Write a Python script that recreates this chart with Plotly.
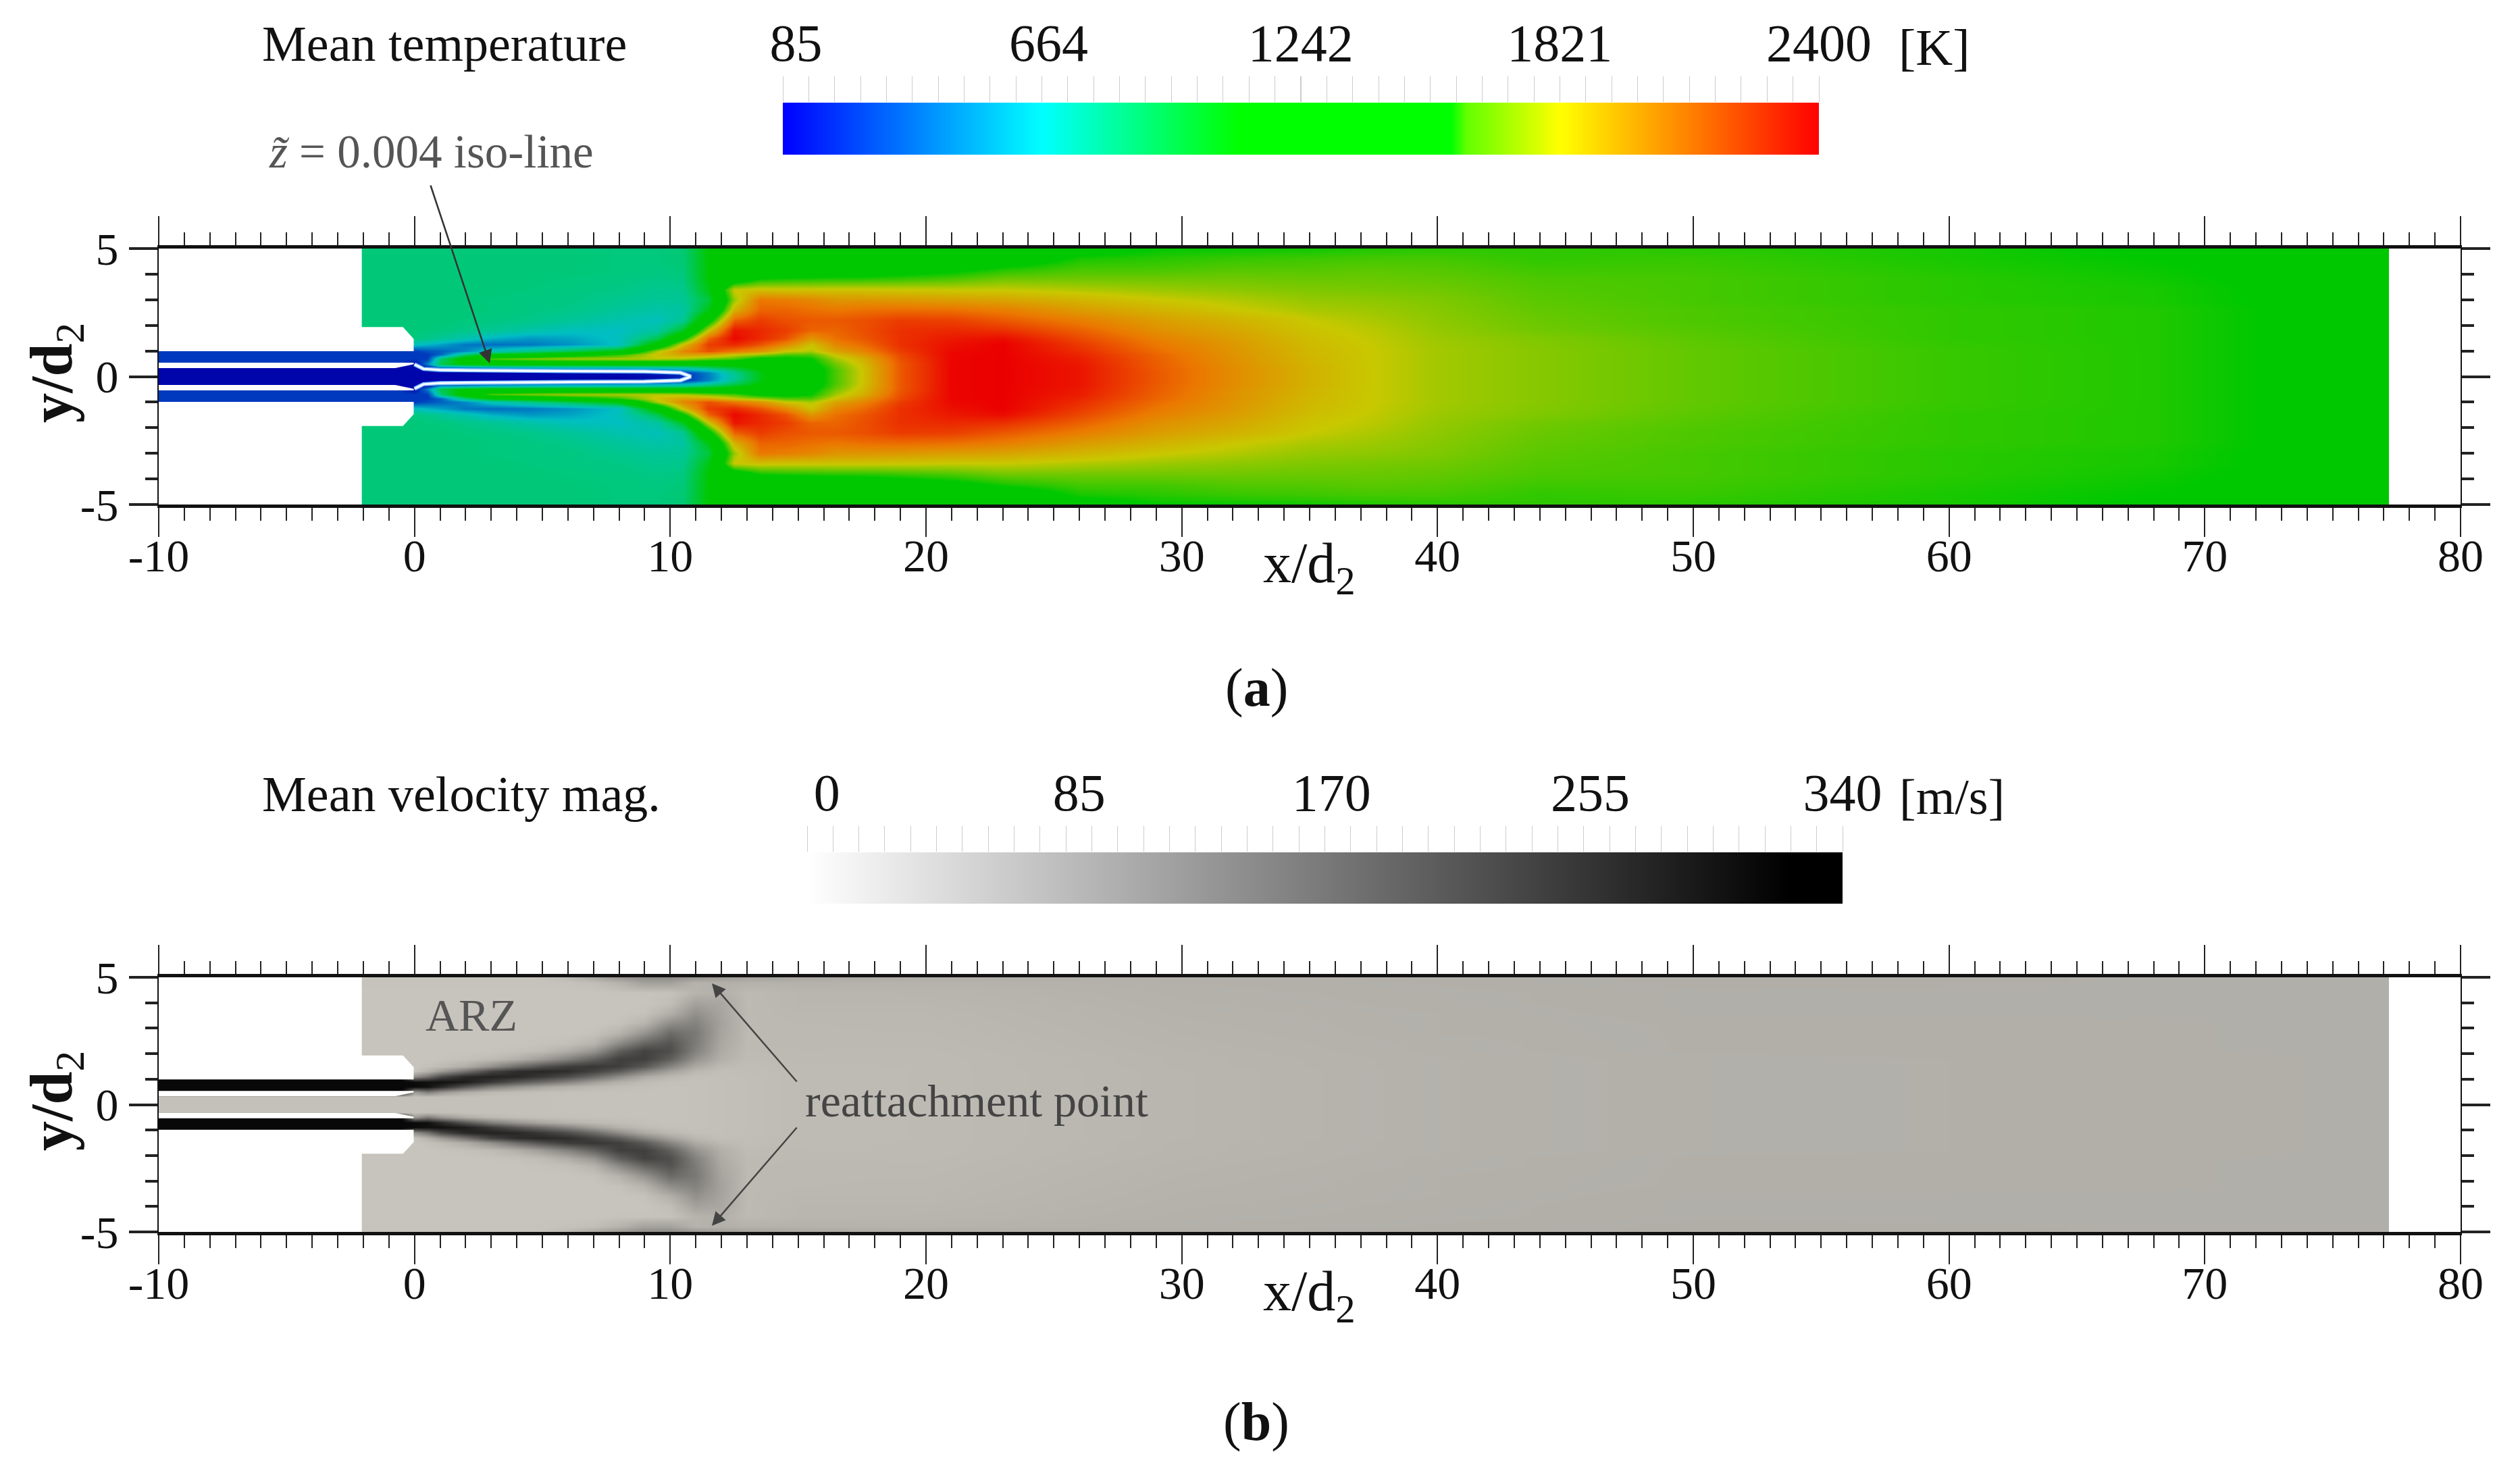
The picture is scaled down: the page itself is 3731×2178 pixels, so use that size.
import plotly.graph_objects as go

W, H = 3731, 2178

# ---------- axes data ----------
x_major = [-10, 0, 10, 20, 30, 40, 50, 60, 70, 80]
x_major_text = ["-10", "0", "10", "20", "30", "40", "50", "60", "70", "80"]
y_major = [-5, 0, 5]
y_major_text = ["-5", "0", "5"]

# ---------- mean temperature field (upper half; K) ----------
temp_x = [-10, -0.5, 0, 0.5, 1, 2, 3, 4.5, 6, 8, 9.5, 10.5, 11.5, 12.5, 13.5, 14.5, 15.5, 16.5, 17.5,
          19, 21, 23, 26, 29, 32, 35, 37.5, 40, 44, 50, 60, 68, 77.2]
temp_y = [0, 0.15, 0.25, 0.35, 0.5, 0.7, 0.85, 1.0, 1.25, 1.5, 1.8, 2.2, 2.6, 3.0, 3.4, 3.8, 4.2, 4.6, 5]
t_y000 = [100, 100, 100, 100, 100, 100, 100, 100, 100, 100, 130, 220, 480, 800, 1150, 1350, 1450, 1650, 1830, 2180, 2390, 2400, 2350, 2180, 2030, 1900, 1821, 1770, 1730, 1680, 1620, 1590, 1500]
t_y015 = [100, 100, 100, 100, 100, 100, 100, 110, 120, 130, 200, 260, 500, 850, 1150, 1350, 1450, 1650, 1830, 2180, 2390, 2400, 2350, 2180, 2030, 1900, 1821, 1770, 1730, 1680, 1620, 1590, 1500]
t_y025 = [100, 100, 110, 120, 260, 350, 400, 420, 430, 450, 480, 540, 700, 950, 1200, 1350, 1450, 1650, 1830, 2180, 2390, 2400, 2350, 2180, 2030, 1900, 1821, 1770, 1730, 1680, 1620, 1590, 1500]
t_y035 = [100, 100, 100, 180, 500, 520, 600, 650, 700, 720, 760, 800, 950, 1100, 1250, 1350, 1450, 1670, 1840, 2180, 2390, 2400, 2350, 2170, 2030, 1900, 1821, 1770, 1730, 1680, 1620, 1590, 1500]
t_y050 = [290, 290, 130, 500, 1000, 1250, 1300, 1300, 1300, 1300, 1300, 1300, 1300, 1300, 1350, 1400, 1500, 1700, 1860, 2180, 2390, 2400, 2340, 2170, 2020, 1890, 1821, 1770, 1730, 1680, 1620, 1590, 1500]
t_y070 = [290, 290, 290, 300, 900, 1350, 1650, 1720, 1760, 1780, 1800, 1780, 1700, 1650, 1500, 1500, 1550, 1770, 1900, 2200, 2390, 2400, 2330, 2160, 2010, 1890, 1821, 1770, 1730, 1680, 1620, 1590, 1500]
t_y085 = [290, 290, 290, 290, 420, 920, 1200, 1300, 1450, 1600, 1850, 1950, 1950, 1820, 1750, 1650, 1650, 1850, 1980, 2220, 2390, 2400, 2310, 2150, 2010, 1880, 1821, 1770, 1730, 1680, 1620, 1590, 1500]
t_y100 = [290, 290, 290, 360, 400, 520, 720, 870, 1000, 1200, 1780, 2050, 2200, 2100, 2000, 1830, 1780, 1950, 2050, 2250, 2380, 2400, 2290, 2130, 2000, 1880, 1821, 1770, 1730, 1680, 1620, 1590, 1500]
t_y125 = [290, 290, 700, 640, 590, 470, 440, 470, 540, 680, 1300, 1850, 2250, 2300, 2200, 2050, 1850, 2050, 2130, 2280, 2360, 2400, 2260, 2100, 1990, 1870, 1815, 1765, 1725, 1675, 1615, 1590, 1500]
t_y150 = [900, 900, 880, 860, 820, 740, 630, 560, 590, 690, 1000, 1500, 2150, 2380, 2300, 2200, 2000, 2120, 2180, 2280, 2340, 2370, 2220, 2070, 1970, 1860, 1810, 1760, 1720, 1670, 1610, 1590, 1500]
t_y180 = [900, 900, 900, 890, 890, 860, 830, 760, 700, 670, 780, 1100, 1830, 2350, 2300, 2250, 2150, 2150, 2200, 2280, 2300, 2280, 2160, 2020, 1940, 1840, 1800, 1750, 1700, 1660, 1610, 1590, 1500]
t_y220 = [900, 900, 900, 900, 900, 890, 880, 860, 810, 740, 700, 820, 1450, 2150, 2250, 2200, 2180, 2180, 2200, 2250, 2240, 2180, 2080, 1970, 1900, 1820, 1780, 1740, 1690, 1650, 1610, 1590, 1500]
t_y260 = [900, 900, 900, 900, 900, 900, 890, 880, 860, 800, 760, 780, 1150, 1900, 2150, 2150, 2120, 2100, 2120, 2130, 2120, 2080, 1980, 1900, 1830, 1780, 1760, 1730, 1680, 1650, 1610, 1590, 1500]
t_y300 = [900, 900, 900, 900, 900, 900, 890, 880, 880, 840, 810, 820, 1050, 1750, 2100, 2080, 2050, 2000, 2000, 1990, 1970, 1950, 1890, 1830, 1790, 1750, 1740, 1720, 1670, 1640, 1600, 1580, 1500]
t_y340 = [900, 900, 900, 900, 900, 900, 900, 890, 880, 870, 840, 850, 1150, 1830, 1850, 1840, 1840, 1840, 1840, 1830, 1820, 1820, 1790, 1760, 1740, 1720, 1710, 1700, 1660, 1640, 1600, 1580, 1500]
t_y380 = [900, 900, 900, 900, 900, 900, 900, 900, 890, 880, 870, 880, 1200, 1400, 1560, 1580, 1590, 1600, 1600, 1620, 1650, 1700, 1700, 1700, 1700, 1690, 1690, 1680, 1650, 1640, 1600, 1570, 1500]
t_y420 = [900, 900, 900, 900, 900, 900, 900, 900, 900, 890, 880, 900, 1200, 1300, 1350, 1350, 1360, 1380, 1400, 1450, 1500, 1580, 1640, 1640, 1660, 1660, 1670, 1660, 1630, 1630, 1590, 1560, 1500]
t_y460 = [900, 900, 900, 900, 900, 900, 900, 900, 900, 890, 890, 910, 1200, 1300, 1300, 1300, 1300, 1300, 1320, 1340, 1370, 1420, 1580, 1600, 1620, 1630, 1640, 1640, 1610, 1620, 1580, 1550, 1500]
t_y500 = [900, 900, 900, 900, 900, 900, 900, 900, 900, 890, 890, 910, 1200, 1350, 1350, 1300, 1350, 1350, 1350, 1350, 1350, 1400, 1480, 1550, 1560, 1570, 1590, 1600, 1610, 1600, 1580, 1540, 1500]
temp_rows = [t_y000, t_y015, t_y025, t_y035, t_y050, t_y070, t_y085, t_y100, t_y125, t_y150, t_y180,
             t_y220, t_y260, t_y300, t_y340, t_y380, t_y420, t_y460, t_y500]

# ---------- mean velocity magnitude field (upper half; m/s) ----------
vel_x = [-10, -0.5, 0, 0.5, 1, 2, 3, 4, 5, 6, 7, 8, 9, 10, 11, 12, 13, 15, 20, 30, 40, 50, 77.2]
vel_y = [0, 0.3, 0.5, 0.7, 0.9, 1.1, 1.3, 1.5, 1.8, 2.1, 2.4, 2.8, 3.2, 3.6, 4, 4.4, 4.8, 5]
v_y00 = [15, 15, 15, 15, 15, 15, 15, 15, 15, 14, 14, 14, 14, 14, 15, 18, 20, 25, 27, 35, 42, 45, 47]
v_y03 = [15, 15, 15, 20, 18, 16, 15, 15, 15, 14, 14, 14, 14, 14, 15, 18, 20, 25, 27, 35, 42, 45, 47]
v_y05 = [335, 335, 80, 130, 90, 50, 30, 22, 18, 16, 15, 15, 14, 14, 15, 18, 20, 25, 27, 35, 42, 45, 47]
v_y07 = [335, 335, 330, 320, 280, 200, 130, 90, 60, 40, 28, 22, 17, 14, 15, 18, 20, 25, 27, 35, 42, 45, 47]
v_y09 = [335, 335, 330, 320, 320, 300, 250, 200, 160, 120, 75, 42, 25, 17, 15, 18, 20, 25, 27, 35, 42, 45, 47]
v_y11 = [335, 335, 100, 150, 220, 280, 290, 280, 250, 215, 165, 105, 55, 30, 18, 18, 20, 25, 27, 35, 42, 45, 47]
v_y13 = [10, 10, 14, 40, 80, 150, 230, 270, 280, 270, 235, 190, 125, 70, 32, 20, 22, 25, 27, 35, 42, 45, 47]
v_y15 = [10, 10, 10, 16, 25, 50, 100, 160, 210, 245, 255, 240, 195, 120, 55, 28, 22, 26, 27, 36, 42, 45, 47]
v_y18 = [10, 10, 10, 10, 12, 16, 25, 45, 80, 125, 180, 240, 240, 185, 95, 45, 25, 28, 27, 36, 42, 45, 47]
v_y21 = [10, 10, 10, 10, 10, 10, 12, 16, 25, 50, 90, 185, 235, 215, 125, 52, 27, 28, 28, 37, 43, 46, 47]
v_y24 = [10, 10, 10, 10, 10, 10, 10, 10, 14, 18, 38, 110, 175, 205, 135, 58, 28, 30, 29, 38, 43, 46, 47]
v_y28 = [10, 10, 10, 10, 10, 10, 10, 10, 10, 10, 14, 40, 95, 165, 140, 65, 28, 30, 30, 39, 44, 46, 47]
v_y32 = [10, 10, 10, 10, 10, 10, 10, 10, 10, 10, 10, 14, 38, 105, 125, 68, 28, 30, 31, 40, 44, 46, 47]
v_y36 = [10, 10, 10, 10, 10, 10, 10, 10, 10, 10, 10, 10, 14, 45, 100, 65, 28, 32, 32, 41, 44, 47, 47]
v_y40 = [10, 10, 10, 10, 10, 10, 10, 10, 10, 10, 10, 10, 10, 20, 70, 60, 28, 34, 34, 42, 45, 47, 47]
v_y44 = [10, 10, 10, 10, 10, 10, 10, 10, 10, 10, 10, 12, 12, 14, 38, 45, 28, 34, 36, 43, 45, 47, 47]
v_y48 = [12, 12, 12, 12, 12, 12, 12, 12, 12, 14, 20, 40, 70, 70, 40, 45, 42, 42, 40, 44, 46, 48, 47]
v_y50 = [12, 12, 12, 12, 12, 12, 12, 12, 14, 30, 60, 90, 110, 110, 90, 80, 70, 60, 50, 46, 46, 48, 47]
vel_rows = [v_y00, v_y03, v_y05, v_y07, v_y09, v_y11, v_y13, v_y15, v_y18, v_y21, v_y24, v_y28, v_y32,
            v_y36, v_y40, v_y44, v_y48, v_y50]

# ---------- colour-bar scales ----------
temp_levels = [85, 143, 201, 259, 317, 374, 432, 490, 548, 606, 664, 722, 780, 838, 895, 953, 1011, 1069,
               1127, 1185, 1242, 1300, 1358, 1416, 1474, 1532, 1590, 1648, 1706, 1764, 1821, 1879, 1937,
               1995, 2053, 2111, 2169, 2227, 2285, 2343, 2400]
temp_labels = [85, 664, 1242, 1821, 2400]
temp_text = ["\u00a0\u00a085", "\u00a0664", "1242", "1821", "2400"]
vel_levels = [0, 8.5, 17, 25.5, 34, 42.5, 51, 59.5, 68, 76.5, 85, 93.5, 102, 110.5, 119, 127.5, 136, 144.5,
              153, 161.5, 170, 178.5, 187, 195.5, 204, 212.5, 221, 229.5, 238, 246.5, 255, 263.5, 272,
              280.5, 289, 297.5, 306, 314.5, 323, 331.5, 340]
vel_labels = [0, 85, 170, 255, 340]
vel_text = ["\u00a0\u00a0\u00a00", "\u00a0\u00a085", "\u00a0170", "\u00a0255", "340"]

# ---------- geometry of nozzle (masked white), in x/d2, y/d2 ----------
mask_up_x = [-10, -2.06, -2.06, -0.45, -0.03, -0.03, -10]
mask_up_y = [5, 5, 1.93, 1.93, 1.47, 0.99, 0.99]
gap_x = [-10, -0.03, -0.03, -0.75, -10]
gap_y = [0.54, 0.54, 0.48, 0.33, 0.33]
end_x = [77.2, 80, 80, 77.2]
end_y = [-5, -5, 5, 5]

# ---------- iso-line (upper half) ----------
iso_x = [0.0, 0.35, 1.0, 2.2, 6.2, 9.0, 10.4, 10.76]
iso_y = [0.475, 0.30, 0.26, 0.24, 0.21, 0.20, 0.15, 0.02]

# ---------- colours ----------
field_T = [85, 300, 500, 664, 850, 1200, 1550, 1600, 1821, 2100, 2250, 2400]
field_C = ["rgb(0,0,170)", "rgb(0,60,190)", "rgb(0,130,195)", "rgb(0,190,195)", "rgb(0,200,140)",
           "rgb(0,200,0)", "rgb(0,200,0)", "rgb(40,200,0)", "rgb(200,200,0)", "rgb(235,120,0)",
           "rgb(235,60,0)", "rgb(235,0,0)"]
bar_f = [0, 0.25, 0.44, 0.645, 0.66, 0.75, 0.875, 1]
bar_C = ["rgb(0,0,255)", "rgb(0,255,255)", "rgb(0,255,0)", "rgb(0,255,0)", "rgb(100,255,0)", "rgb(255,255,0)",
         "rgb(255,128,0)", "rgb(255,0,0)"]
temp_scale = [[(t - 85) / 2315, c] for t, c in zip(field_T, field_C)]
bar_scale = [[f, c] for f, c in zip(bar_f, bar_C)]
vel_scale = [[0, "rgb(205,202,195)"], [1, "rgb(5,5,5)"]]
grey_scale = [[0, "rgb(255,255,255)"], [0.95, "rgb(0,0,0)"], [1, "rgb(0,0,0)"]]

SERIF = "Liberation Serif"


def fx(p):
    return p / W


def fy(p):
    return 1 - p / H


def mirrored(ys, rows):
    yy = [-v for v in ys[:0:-1]] + list(ys)
    zz = list(rows[:0:-1]) + list(rows)
    return yy, zz


fig = go.Figure()

ty, tz = mirrored(temp_y, temp_rows)
vy, vz = mirrored(vel_y, vel_rows)

fig.add_trace(go.Heatmap(x=temp_x, y=ty, z=tz, zmin=85, zmax=2400, colorscale=temp_scale, zsmooth="best",
                         showscale=False, hoverinfo="skip", xaxis="x", yaxis="y"))
fig.add_trace(go.Heatmap(x=vel_x, y=vy, z=vz, zmin=0, zmax=340, colorscale=vel_scale, zsmooth="best",
                         showscale=False, hoverinfo="skip", xaxis="x2", yaxis="y2"))


def masks(xa, ya):
    for px_, py_ in [(mask_up_x, mask_up_y), (mask_up_x, [-v for v in mask_up_y]),
                     (gap_x, gap_y), (gap_x, [-v for v in gap_y]), (end_x, end_y)]:
        fig.add_trace(go.Scatter(x=px_, y=py_, mode="lines", fill="toself", fillcolor="white",
                                 line=dict(width=0), hoverinfo="skip", showlegend=False, xaxis=xa, yaxis=ya))


masks("x", "y")
masks("x2", "y2")

iso_full_x = iso_x + iso_x[::-1]
iso_full_y = iso_y + [-v for v in iso_y[::-1]]
fig.add_trace(go.Scatter(x=iso_full_x, y=iso_full_y, mode="lines", line=dict(color="rgb(120,190,255)", width=6),
                         hoverinfo="skip", showlegend=False, xaxis="x", yaxis="y"))
fig.add_trace(go.Scatter(x=iso_full_x, y=iso_full_y, mode="lines", line=dict(color="white", width=3),
                         hoverinfo="skip", showlegend=False, xaxis="x", yaxis="y"))

# colour bars
fig.add_trace(go.Heatmap(x=temp_levels, y=[0, 1], z=[temp_levels, temp_levels], zmin=85, zmax=2400,
                         colorscale=bar_scale, zsmooth="best",
                         showscale=False, hoverinfo="skip", xaxis="x3", yaxis="y3"))
fig.add_trace(go.Heatmap(x=vel_levels, y=[0, 1], z=[vel_levels, vel_levels], zmin=0, zmax=340,
                         colorscale=grey_scale, zsmooth="best",
                         showscale=False, hoverinfo="skip", xaxis="x4", yaxis="y4"))

TICK_FONT = dict(family=SERIF, size=68, color="#111")


def field_xaxis(anchor):
    return dict(domain=[fx(235), fx(3643)], range=[-10, 80], anchor=anchor, tickmode="array", tickvals=x_major,
                ticktext=x_major_text, automargin=False,
                ticks="outside", ticklen=43, tickwidth=2, tickcolor="#222",
                minor=dict(dtick=1, tick0=0, ticks="outside", ticklen=19, tickwidth=2, tickcolor="#222"),
                showline=True, linewidth=5, linecolor="#111", mirror="ticks", showgrid=False, zeroline=False,
                tickfont=TICK_FONT, ticklabelstandoff=-31)


def field_yaxis(top, bottom, anchor):
    return dict(domain=[fy(bottom), fy(top)], range=[-5, 5], anchor=anchor, tickmode="array", tickvals=y_major,
                ticktext=y_major_text, automargin=False,
                ticks="outside", ticklen=42, tickwidth=4, tickcolor="#222",
                minor=dict(dtick=1, tick0=0, ticks="outside", ticklen=18, tickwidth=4, tickcolor="#222"),
                showline=True, linewidth=2, linecolor="#111", mirror="ticks", showgrid=False, zeroline=False,
                tickfont=TICK_FONT, ticklabelstandoff=2)


def bar_xaxis(left, right, rng, tv, tt, step, anchor):
    return dict(domain=[fx(left), fx(right)], range=rng, anchor=anchor, side="top", tickmode="array", tickvals=tv,
                ticktext=tt, automargin=False, ticks="outside", ticklen=38, tickwidth=1, tickcolor="#ccc",
                minor=dict(dtick=step, tick0=rng[0], ticks="outside", ticklen=38, tickwidth=1, tickcolor="#ccc"),
                showline=False, showgrid=False, zeroline=False,
                tickfont=dict(family=SERIF, size=78, color="#111"), ticklabelstandoff=-8)


def bar_yaxis(top, bottom, anchor):
    return dict(domain=[fy(bottom), fy(top)], anchor=anchor, visible=False, range=[0, 1], automargin=False)


def note(text, x, y, size=72, color="#111", angle=0, anchor="center"):
    return dict(text=text, x=fx(x), y=fy(y), xref="paper", yref="paper", showarrow=False, xanchor=anchor,
                yanchor="middle", textangle=angle, font=dict(family=SERIF, size=size, color=color))


def arrow(x0, y0, x1, y1, color="#333"):
    return dict(x=fx(x1), y=fy(y1), xref="paper", yref="paper", axref="pixel", ayref="pixel", ax=x0 - x1, ay=y0 - y1,
                text="", showarrow=True, arrowhead=2, arrowsize=1.6, arrowwidth=2.5, arrowcolor=color)


annotations = [
    note("Mean temperature", 386, 65, size=74, anchor="left"),
    note("[K]", 2864, 70, size=76),
    note("<i>z\u0303</i> = 0.004 iso-line", 396, 225, size=69, color="#555", anchor="left"),
    note("<b>y/d</b><sub>2</sub>", 82, 552, size=88, angle=-90),
    note("x/d<sub>2</sub>", 1938, 840, size=84),
    note("(<b>a</b>)", 1860, 1019, size=80),
    note("Mean velocity mag.", 386, 1176, size=74, anchor="left"),
    note("[m/s]", 2890, 1180, size=74),
    note("ARZ", 698, 1503, size=68, color="#555"),
    note("reattachment point", 1190, 1630, size=68, color="#444", anchor="left"),
    note("<b>y/d</b><sub>2</sub>", 82, 1630, size=88, angle=-90),
    note("x/d<sub>2</sub>", 1938, 1918, size=84),
    note("(<b>b</b>)", 1860, 2105, size=80),
    arrow(637, 273, 725, 538),
    arrow(1181, 1603, 1054, 1456, "#444"),
    arrow(1181, 1668, 1054, 1815, "#444"),
]

fig.update_layout(
    width=W, height=H, margin=dict(l=0, r=0, t=0, b=0), paper_bgcolor="white", plot_bgcolor="white",
    showlegend=False, annotations=annotations,
    xaxis=field_xaxis("y"), yaxis=field_yaxis(368, 747, "x"),
    xaxis2=field_xaxis("y2"), yaxis2=field_yaxis(1447, 1824, "x2"),
    xaxis3=bar_xaxis(1159, 2693, [85, 2400], temp_labels, temp_text, 57.875, "y3"), yaxis3=bar_yaxis(152, 229, "x3"),
    xaxis4=bar_xaxis(1195, 2728, [0, 340], vel_labels, vel_text, 8.5, "y4"), yaxis4=bar_yaxis(1262, 1338, "x4"),
)

fig.write_html("out.html", config=dict(displayModeBar=False),
               post_script="document.body.style.margin='0';document.documentElement.style.overflow='hidden';")
